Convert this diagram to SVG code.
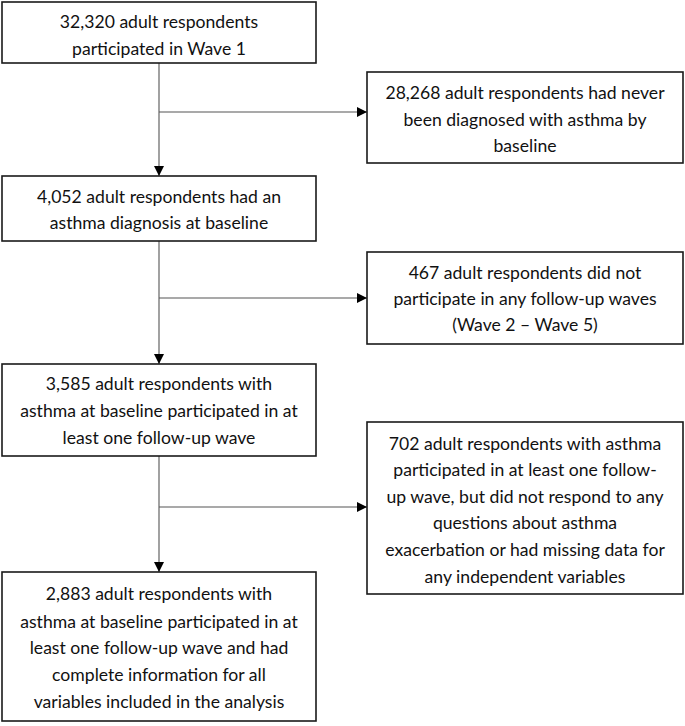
<svg xmlns="http://www.w3.org/2000/svg" width="685" height="726" viewBox="0 0 685 726">
<defs>
<marker id="ah" viewBox="0 0 10 10" refX="10" refY="5" markerWidth="10" markerHeight="10" markerUnits="userSpaceOnUse" orient="auto">
<path d="M0,0 L10,5 L0,10 Z" fill="#000"/>
</marker>
<style>
.box{fill:#fff;stroke:#1a1a1a;stroke-width:1.6}
.t{font-family:Lato,"Open Sans",sans-serif;font-size:17.6px;fill:#111;text-anchor:middle}
.c{fill:none;stroke:#555;stroke-width:1.1}
</style>
</defs>
<g id="connectors">
<line class="c" x1="159" y1="63" x2="159" y2="176" marker-end="url(#ah)"/>
<line class="c" x1="159" y1="112" x2="367" y2="112" marker-end="url(#ah)"/>
<line class="c" x1="159" y1="241" x2="159" y2="364" marker-end="url(#ah)"/>
<line class="c" x1="159" y1="298" x2="367" y2="298" marker-end="url(#ah)"/>
<line class="c" x1="159" y1="456" x2="159" y2="572" marker-end="url(#ah)"/>
<line class="c" x1="159" y1="507" x2="367" y2="507" marker-end="url(#ah)"/>
</g>
<g id="n1">
<rect class="box" x="2" y="2" width="314" height="61"/>
<text class="t" x="159" y="28">32,320 adult respondents</text>
<text class="t" x="159" y="55">participated in Wave 1</text>
</g>
<g id="n2">
<rect class="box" x="367" y="72" width="316" height="91"/>
<text class="t" x="525" y="99">28,268 adult respondents had never</text>
<text class="t" x="525" y="126">been diagnosed with asthma by</text>
<text class="t" x="525" y="152">baseline</text>
</g>
<g id="n3">
<rect class="box" x="2" y="176" width="314" height="65"/>
<text class="t" x="159" y="203">4,052 adult respondents had an</text>
<text class="t" x="159" y="229">asthma diagnosis at baseline</text>
</g>
<g id="n4">
<rect class="box" x="367" y="252" width="316" height="92"/>
<text class="t" x="525" y="279">467 adult respondents did not</text>
<text class="t" x="525" y="305">participate in any follow-up waves</text>
<text class="t" x="525" y="331">(Wave 2 – Wave 5)</text>
</g>
<g id="n5">
<rect class="box" x="2" y="364" width="314" height="92"/>
<text class="t" x="159" y="390">3,585 adult respondents with</text>
<text class="t" x="159" y="417">asthma at baseline participated in at</text>
<text class="t" x="159" y="444">least one follow-up wave</text>
</g>
<g id="n6">
<rect class="box" x="367" y="422" width="316" height="172"/>
<text class="t" x="525" y="450">702 adult respondents with asthma</text>
<text class="t" x="525" y="476">participated in at least one follow-</text>
<text class="t" x="525" y="503">up wave, but did not respond to any</text>
<text class="t" x="525" y="529">questions about asthma</text>
<text class="t" x="525" y="556">exacerbation or had missing data for</text>
<text class="t" x="525" y="583">any independent variables</text>
</g>
<g id="n7">
<rect class="box" x="2" y="572" width="314" height="149"/>
<text class="t" x="159" y="600">2,883 adult respondents with</text>
<text class="t" x="159" y="628">asthma at baseline participated in at</text>
<text class="t" x="159" y="654">least one follow-up wave and had</text>
<text class="t" x="159" y="681">complete information for all</text>
<text class="t" x="159" y="708">variables included in the analysis</text>
</g>
</svg>
